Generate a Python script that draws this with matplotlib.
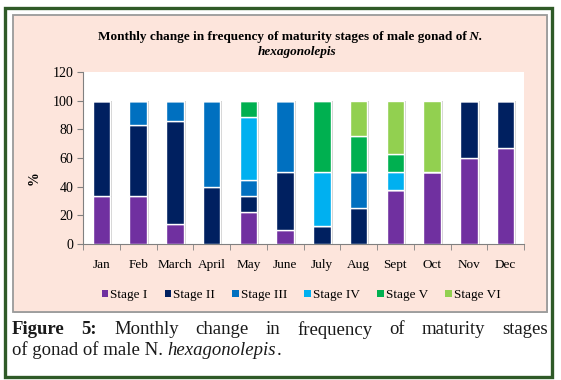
import numpy as np
import matplotlib
matplotlib.use('Agg')
import matplotlib.pyplot as plt
import matplotlib.patheffects as pe
from matplotlib.patches import Rectangle, Patch
from matplotlib.text import Annotation

months = ['Jan', 'Feb', 'March', 'April', 'May', 'June', 'July', 'Aug', 'Sept', 'Oct', 'Nov', 'Dec']
stages = ['Stage I', 'Stage II', 'Stage III', 'Stage IV', 'Stage V', 'Stage VI']
stage_1 = [33.3, 33.3, 14.3, 0, 22.2, 10, 0, 0, 37.5, 50, 60, 66.7]
stage_2 = [66.7, 50, 71.4, 40, 11.1, 40, 12.5, 25, 0, 0, 40, 33.3]
stage_3 = [0, 16.7, 14.3, 60, 11.1, 50, 0, 25, 0, 0, 0, 0]
stage_4 = [0, 0, 0, 0, 44.4, 0, 37.5, 0, 12.5, 0, 0, 0]
stage_5 = [0, 0, 0, 0, 11.1, 0, 50, 25, 12.5, 0, 0, 0]
stage_6 = [0, 0, 0, 0, 0, 0, 0, 25, 37.5, 50, 0, 0]
colors = ['#7030a0', '#002060', '#0070c0', '#00b0f0', '#00b050', '#92d050']

serif = 'Liberation Serif'
plt.rcParams['font.family'] = [serif, 'DejaVu Serif']
W, H = 561, 380
fig = plt.figure(figsize=(W / 100, H / 100), dpi=100)
fig.patch.set_facecolor('white')

# outer green border and the chart frame (behind the axes)
fig.patches.append(Rectangle((4.5 / W, 1 - 376.5 / H), 547 / W, 369 / H, transform=fig.transFigure,
                             fill=False, edgecolor='#2f5a27', linewidth=2.4, zorder=-2))
fig.patches.append(Rectangle((13 / W, 1 - 312 / H), 534 / W, 297 / H, transform=fig.transFigure,
                             facecolor='#fde5dc', edgecolor='#9a9a9a', linewidth=1.3, zorder=-1,
                             path_effects=[pe.SimplePatchShadow(offset=(1, -1), alpha=0.3), pe.Normal()]))

ax = fig.add_axes([83 / W, 1 - 244 / H, 441 / W, 172 / H])
ax.set_facecolor('white')

x = np.arange(len(months))
bottom = np.zeros(len(months))
series = [stage_1, stage_2, stage_3, stage_4, stage_5, stage_6]
for vals, col, name in zip(series, colors, stages):
    vals = np.array(vals)
    ax.bar(x, vals, bottom=bottom, width=0.47, color=col, edgecolor='white', linewidth=1.0,
           label=name, zorder=3,
           path_effects=[pe.SimplePatchShadow(offset=(1.5, -0.5), shadow_rgbFace='#b0b0b0', alpha=0.6),
                         pe.Normal()])
    bottom += vals

ax.set_xlim(-0.5, 11.5)
ax.set_ylim(0, 120)
ax.set_yticks(range(0, 121, 20))
ax.set_xticks(x)
ax.set_xticklabels(months, fontsize=9.5)
ax.set_xticks(np.arange(-0.5, 12, 1), minor=True)
ax.tick_params(axis='x', which='major', length=0, pad=11)
ax.tick_params(axis='x', which='minor', length=4, color='#808080', direction='out')
ax.tick_params(axis='y', length=4, color='#808080', labelsize=10, pad=3)
for s in ['top', 'right']:
    ax.spines[s].set_visible(False)
for s in ['left', 'bottom']:
    ax.spines[s].set_color('#808080')
fig.text(34 / W, 1 - 178 / H, '%', rotation=90, fontsize=10, fontweight='bold',
         ha='center', va='center')

# chart title
t1 = fig.text(282 / W, 1 - 37 / H, 'Monthly change in frequency of maturity stages of male gonad of',
              fontsize=9.5, fontweight='bold', ha='center', va='center')
fig.add_artist(Annotation(' N.', xy=(1, 0), xycoords=t1, va='bottom', ha='left', fontsize=9.5,
                          fontweight='bold', style='italic'))
fig.text(297 / W, 1 - 52 / H, 'hexagonolepis', fontsize=9.5, fontweight='bold',
         style='italic', ha='center', va='center')

handles = [Patch(facecolor=c) for c in colors]
fig.legend(handles, stages, loc='center', bbox_to_anchor=(301 / W, 1 - 295 / H), ncol=6, frameon=False,
           prop={'size': 9.5}, handlelength=0.5, handleheight=0.5,
           handletextpad=0.15, columnspacing=1.3, borderaxespad=0)

# caption, first line justified
fig.canvas.draw()
rend = fig.canvas.get_renderer()
words = [('Figure', 'bold'), ('5:', 'bold'), ('Monthly', 'normal'), ('change', 'normal'), ('in', 'normal'),
         ('frequency', 'normal'), ('of', 'normal'), ('maturity', 'normal'), ('stages', 'normal')]
objs = []
for w, wt in words:
    objs.append(fig.text(0, 1 - 330 / H, w, fontsize=13.5, fontweight=wt,
                         ha='left', va='center', color='#1a1a1a'))
widths = [o.get_window_extent(rend).width for o in objs]
left, right = 12, 548
gap = (right - left - sum(widths)) / (len(words) - 1)
pos = left
for o, wd in zip(objs, widths):
    o.set_x(pos / W)
    pos += wd + gap

c2 = fig.text(12 / W, 1 - 350 / H, 'of gonad of male N. ', fontsize=13.5,
              ha='left', va='center', color='#1a1a1a')
c3 = fig.add_artist(Annotation('hexagonolepis', xy=(1, 0), xycoords=c2, va='bottom', ha='left',
                               fontsize=13.5, style='italic', color='#1a1a1a'))
fig.add_artist(Annotation('.', xy=(1, 0), xycoords=c3, va='bottom', ha='left', fontsize=13.5,
                          color='#1a1a1a'))

fig.savefig('out.png', dpi=100)
